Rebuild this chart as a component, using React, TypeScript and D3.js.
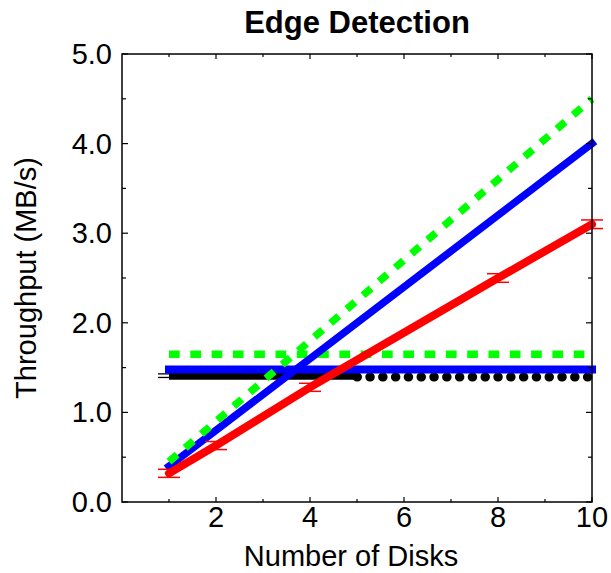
import React from "react";
import * as d3 from "d3";

// Measured throughput (MB/s) with error bars
const measuredDisks = [1, 2, 4, 8, 10];
const measuredThroughput = [0.32, 0.63, 1.28, 2.5, 3.1];
const measuredError = [0.045, 0.045, 0.045, 0.048, 0.048];

// Linear scaling models
const linearDisks = [1, 10];
const blueLinear = [0.4, 4.0];
const greenLinear = [0.45, 4.5];

// Flat (non-scaling) series
const flatDisks = [1, 10];
const blueFlat = [1.48, 1.48];
const greenFlat = [1.65, 1.65];

// Baseline: measured for 1–5 disks, extrapolated beyond
const baselineDisks = [1, 5];
const baselineThroughput = [1.41, 1.41];
const baselineError = [0.02, 0.02];
const baselineExtDisks = [5, 10];
const baselineExtThroughput = [1.395, 1.395];

const xTicks = [2, 4, 6, 8, 10];
const xMinorTicks = [1, 3, 5, 7, 9];
const yTicks = [0, 1, 2, 3, 4, 5];
const yMinorTicks = [0.5, 1.5, 2.5, 3.5, 4.5];

const W = 611;
const H = 573;
const M = { left: 122, right: 592, top: 54, bottom: 502 };

export default function App() {
  const x = d3.scaleLinear().domain([0, 10]).range([M.left, M.right]);
  const y = d3.scaleLinear().domain([0, 5]).range([M.bottom, M.top]);

  const line = (xs: number[], ys: number[]) =>
    d3
      .line<number>()
      .x((_, i) => x(xs[i]))
      .y((d) => y(d))(ys) as string;

  const font = "'Liberation Sans', Arial, Helvetica, sans-serif";
  const capW = 11;

  return (
    <svg
      width={W}
      height={H}
      style={{ position: "absolute", left: 0, top: 0, background: "#fff" }}
      fontFamily={font}
    >
      <rect x={0} y={0} width={W} height={H} fill="#fff" />

      {/* baseline series */}
      <path
        d={line(baselineDisks, baselineThroughput)}
        fill="none"
        stroke="#000"
        strokeWidth={8}
        strokeLinecap="butt"
      />
      {baselineDisks.slice(0, 1).map((d, i) => (
        <g key={"be" + i} stroke="#000" strokeWidth={1.3}>
          <line
            x1={x(d) - capW}
            x2={x(d) + capW}
            y1={y(baselineThroughput[i] + baselineError[i])}
            y2={y(baselineThroughput[i] + baselineError[i])}
          />
          <line
            x1={x(d) - capW}
            x2={x(d) + capW}
            y1={y(baselineThroughput[i] - baselineError[i])}
            y2={y(baselineThroughput[i] - baselineError[i])}
          />
        </g>
      ))}
      <path
        d={line(baselineExtDisks, baselineExtThroughput)}
        fill="none"
        stroke="#000"
        strokeWidth={9}
        strokeLinecap="round"
        strokeDasharray="0.5 12.3"
      />

      {/* flat series */}
      <path
        d={line(flatDisks, blueFlat)}
        fill="none"
        stroke="#0000ff"
        strokeWidth={8}
        strokeLinecap="square"
      />
      <path
        d={line(flatDisks, greenFlat)}
        fill="none"
        stroke="#00ff00"
        strokeWidth={7.5}
        strokeDasharray="10.7 10.6"
      />

      {/* linear models */}
      <path
        d={line(linearDisks, blueLinear)}
        fill="none"
        stroke="#0000ff"
        strokeWidth={7.5}
        strokeLinecap="square"
      />
      <path
        d={line(linearDisks, greenLinear)}
        fill="none"
        stroke="#00ff00"
        strokeWidth={7.5}
        strokeDasharray="10.7 10.6"
      />

      {/* measured series */}
      {measuredDisks.map((d, i) => (
        <g key={"me" + i} stroke="#ff0000" strokeWidth={1.5}>
          <line
            x1={x(d) - capW}
            x2={x(d) + capW}
            y1={y(measuredThroughput[i] + measuredError[i])}
            y2={y(measuredThroughput[i] + measuredError[i])}
          />
          <line
            x1={x(d) - capW}
            x2={x(d) + capW}
            y1={y(measuredThroughput[i] - measuredError[i])}
            y2={y(measuredThroughput[i] - measuredError[i])}
          />
          <line
            x1={x(d)}
            x2={x(d)}
            y1={y(measuredThroughput[i] + measuredError[i])}
            y2={y(measuredThroughput[i] - measuredError[i])}
          />
        </g>
      ))}
      <path
        d={line(measuredDisks, measuredThroughput)}
        fill="none"
        stroke="#ff0000"
        strokeWidth={8}
        strokeLinecap="round"
        strokeLinejoin="round"
      />

      {/* frame */}
      <rect
        x={M.left}
        y={M.top}
        width={M.right - M.left}
        height={M.bottom - M.top}
        fill="none"
        stroke="#000"
        strokeWidth={1.5}
      />

      {/* ticks, pointing inward on all sides */}
      <g stroke="#000" strokeWidth={1.2}>
        {xTicks.map((t) => (
          <g key={"xt" + t}>
            <line x1={x(t)} x2={x(t)} y1={M.bottom} y2={M.bottom - 5} />
            <line x1={x(t)} x2={x(t)} y1={M.top} y2={M.top + 5} />
          </g>
        ))}
        {xMinorTicks.map((t) => (
          <g key={"xm" + t}>
            <line x1={x(t)} x2={x(t)} y1={M.bottom} y2={M.bottom - 3} />
            <line x1={x(t)} x2={x(t)} y1={M.top} y2={M.top + 3} />
          </g>
        ))}
        {yTicks.map((t) => (
          <g key={"yt" + t}>
            <line x1={M.left} x2={M.left + 6} y1={y(t)} y2={y(t)} />
            <line x1={M.right} x2={M.right - 6} y1={y(t)} y2={y(t)} />
          </g>
        ))}
        {yMinorTicks.map((t) => (
          <g key={"ym" + t}>
            <line x1={M.left} x2={M.left + 4} y1={y(t)} y2={y(t)} />
            <line x1={M.right} x2={M.right - 4} y1={y(t)} y2={y(t)} />
          </g>
        ))}
      </g>

      {/* tick labels */}
      <g fontSize={29} fill="#000">
        {xTicks.map((t) => (
          <text key={"xl" + t} x={x(t)} y={M.bottom + 25} textAnchor="middle">
            {t}
          </text>
        ))}
        {yTicks.map((t) => (
          <text
            key={"yl" + t}
            x={M.left - 10}
            y={y(t) + 10}
            textAnchor="end"
          >
            {d3.format(".1f")(t)}
          </text>
        ))}
      </g>

      {/* titles */}
      <text
        x={(M.left + M.right) / 2}
        y={33}
        textAnchor="middle"
        fontSize={31}
        fontWeight="bold"
      >
        Edge Detection
      </text>
      <text x={351} y={566} textAnchor="middle" fontSize={29}>
        Number of Disks
      </text>
      <text
        transform={`translate(36, ${(M.top + M.bottom) / 2}) rotate(-90)`}
        textAnchor="middle"
        fontSize={29}
      >
        Throughput (MB/s)
      </text>
    </svg>
  );
}
